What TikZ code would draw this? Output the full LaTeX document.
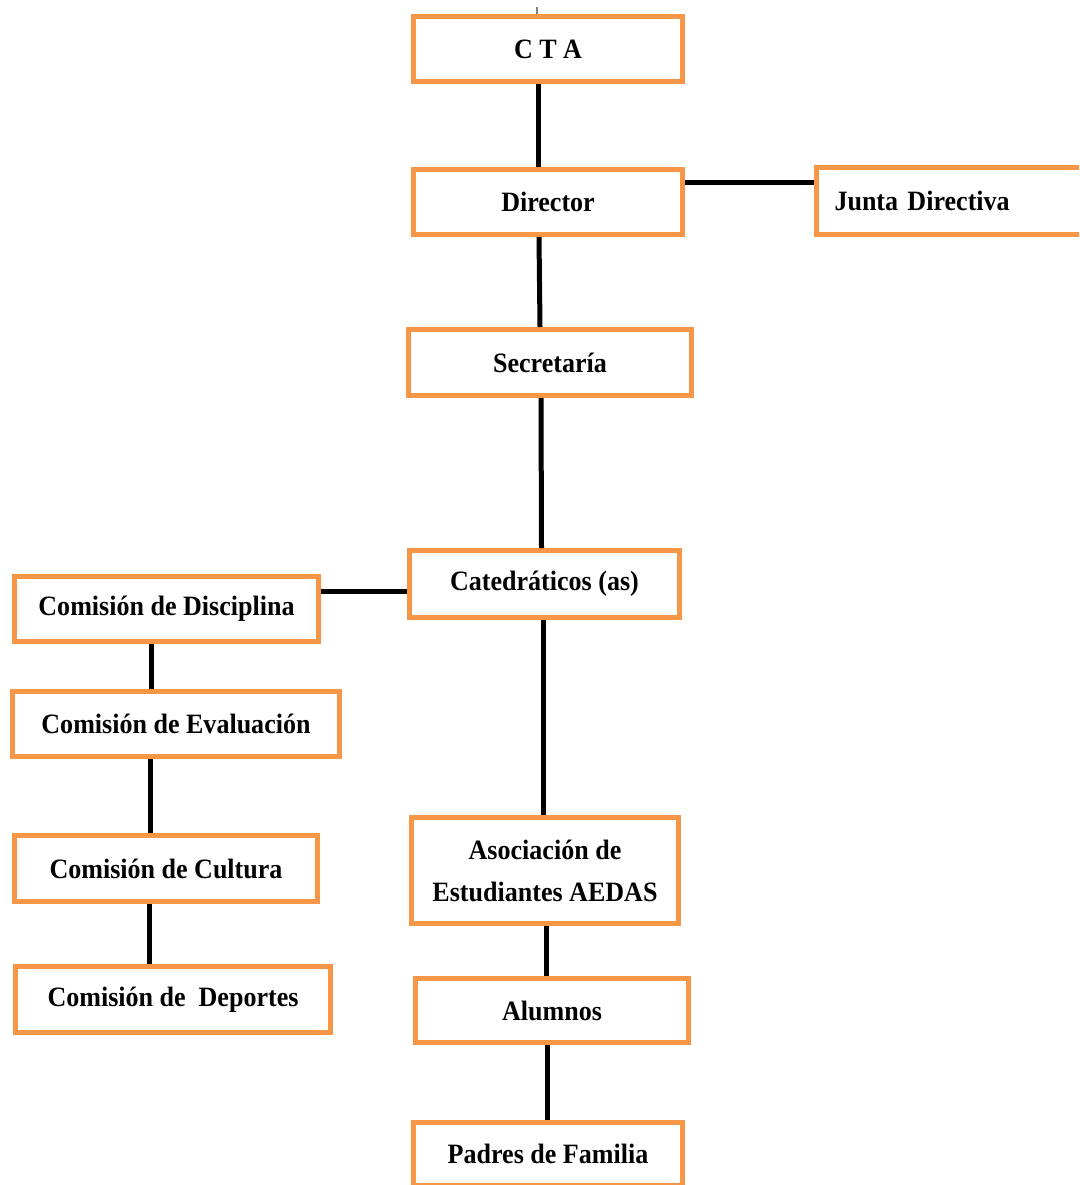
\documentclass[tikz,border=0pt]{standalone}
\usepackage{fontspec}
\setmainfont{Liberation Serif}
\newfontfamily\boxfont[FakeStretch=0.93]{Liberation Serif}
\usetikzlibrary{calc}
\definecolor{boxorange}{HTML}{F79646}
\begin{document}
\begin{tikzpicture}[x=0.75pt,y=-0.75pt,
  orgbox/.style={draw=boxorange,line width=3.75pt,fill=white,inner sep=0pt,
    font=\boxfont\fontsize{21}{24}\selectfont\bfseries,text=black,align=center},
  link/.style={draw=black,line width=3.75pt}]
\useasboundingbox (0,0) rectangle (1079,1185);
\clip (0,0) rectangle (1079,1185);
\fill[white] (0,0) rectangle (1079,1185);
% boxes
\node[orgbox,minimum width=269*0.75pt,minimum height=65*0.75pt] (cta) at (548,49) {C T A};
\node[orgbox,minimum width=269*0.75pt,minimum height=65*0.75pt] (dir) at (548,202) {Director};
\node[orgbox,minimum height=67*0.75pt,text width=265*0.75pt,inner xsep=18.5*0.75pt,align=left] (junta) at (967,201) {Junta Directiva};
\node[orgbox,minimum width=283*0.75pt,minimum height=66*0.75pt] (sec) at (550,362.5) {Secretaría};
\node[orgbox,minimum width=270*0.75pt,minimum height=67*0.75pt] (cat) at (544.5,584) {Catedráticos (as)};
\node[orgbox,minimum width=304*0.75pt,minimum height=65*0.75pt] (disc) at (166.5,609) {Comisión de Disciplina};
\node[orgbox,minimum width=327*0.75pt,minimum height=65*0.75pt] (eval) at (176,724) {Comisión de Evaluación};
\node[orgbox,minimum width=303*0.75pt,minimum height=66*0.75pt] (cult) at (166,868.5) {Comisión de Cultura};
\node[orgbox,minimum width=315*0.75pt,minimum height=66*0.75pt] (dep) at (173,999.5) {Comisión de\ \ Deportes};
\node[orgbox,minimum width=267*0.75pt,minimum height=106*0.75pt,font=\boxfont\fontsize{21}{31.5}\selectfont\bfseries] (aedas) at (545,870.5) {Asociación de\\Estudiantes AEDAS};
\node[orgbox,minimum width=273*0.75pt,minimum height=64*0.75pt] (alu) at (552,1010.5) {Alumnos};
\node[orgbox,minimum width=269*0.75pt,minimum height=63*0.75pt] (pad) at (548,1154) {Padres de Familia};
% connectors
\coordinate (stub) at (537,7);
\draw[gray,line width=1.5pt] (stub) -- ($(cta.north)+(-11,0)$);
\draw[link] ($(cta.south)+(-10,0)$) -- ($(dir.north)+(-10,0)$);
\draw[link] ($(dir.south)+(-9,0)$) -- ($(sec.north)+(-10,0)$);
\draw[link] ($(sec.south)+(-9,0)$) -- ($(cat.north)+(-3,0)$);
\draw[link] ($(dir.east)+(0,-20)$) -- ($(junta.west)+(0,-19)$);
\draw[link] ($(cat.west)+(0,7)$) -- ($(disc.east)+(0,-18)$);
\draw[link] ($(disc.south)+(-15.5,0)$) -- ($(eval.north)+(-25,0)$);
\draw[link] ($(eval.south)+(-26,0)$) -- ($(cult.north)+(-16,0)$);
\draw[link] ($(cult.south)+(-17,0)$) -- ($(dep.north)+(-24,0)$);
\draw[link] ($(cat.south)+(-1.5,0)$) -- ($(aedas.north)+(-2,0)$);
\draw[link] ($(aedas.south)+(1,0)$) -- ($(alu.north)+(-6,0)$);
\draw[link] ($(alu.south)+(-5,0)$) -- ($(pad.north)+(-1,0)$);
\end{tikzpicture}
\end{document}
